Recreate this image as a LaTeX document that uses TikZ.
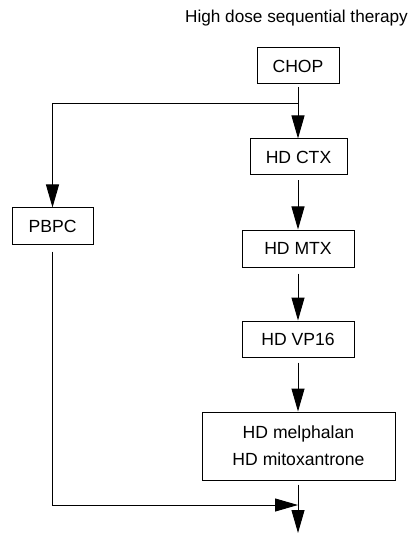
\documentclass[tikz,border=0pt]{standalone}
\usepackage{fontspec}
\setmainfont{Liberation Sans}
\usetikzlibrary{arrows.meta}
\begin{document}
\begin{tikzpicture}[x=1pt,y=-1pt,
  box/.style={draw,line width=1pt,inner sep=0pt,font=\fontsize{17.6}{27}\selectfont,align=center},
  conn/.style={line width=1pt,-{Triangle[length=23pt,width=13pt]}},
  plain/.style={line width=1pt}]
\useasboundingbox (0,0) rectangle (411,534);
\node[font=\fontsize{17.2}{20}\selectfont] (title) at (296.5,18) {High dose sequential therapy};
\node[box,minimum width=82pt,minimum height=36pt] (chop) at (298,66) {CHOP};
\node[box,minimum width=97pt,minimum height=36pt] (ctx) at (298.5,157) {HD CTX};
\node[box,minimum width=112pt,minimum height=37pt] (mtx) at (298,248.5) {HD MTX};
\node[box,minimum width=112pt,minimum height=36pt] (vp) at (298,339) {HD VP16};
\node[box,minimum width=81pt,minimum height=36pt] (pbpc) at (52.5,226) {PBPC};
\node[box,minimum width=193pt,minimum height=68pt] (mel) at (298.5,446) {HD melphalan\\HD mitoxantrone};
\coordinate (br) at (298,104);
\coordinate (j) at (298,505);
\coordinate (end) at (298,533);
\draw[conn,shorten <=3pt] (chop.south) -- (ctx.north -| chop.south);
\draw[conn] (br) -| (pbpc.north);
\draw[conn,shorten <=5pt] (ctx.south -| chop.south) -- (mtx.north -| chop.south);
\draw[conn,shorten <=6pt] (mtx.south) -- (vp.north);
\draw[conn,shorten <=5pt] (vp.south) -- (vp.south |- mel.north);
\draw[conn,shorten <=7pt] (pbpc.south) |- (j);
\draw[conn,shorten <=4pt] (mel.south -| chop.south) -- (end);
\end{tikzpicture}
\end{document}
